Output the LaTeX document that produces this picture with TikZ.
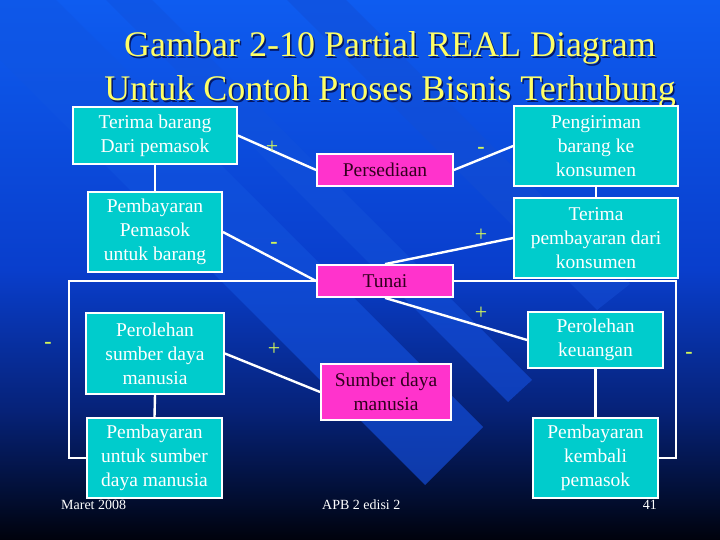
\documentclass[tikz,border=0pt]{standalone}
\usepackage{fontspec}
\setmainfont{Liberation Serif}
\definecolor{c0}{RGB}{0,2,12}
\definecolor{c1}{RGB}{2,14,50}
\definecolor{c2}{RGB}{6,34,120}
\definecolor{c3}{RGB}{9,62,204}
\definecolor{c4}{RGB}{14,92,240}
\definecolor{boxcyan}{RGB}{0,204,204}
\definecolor{boxmag}{RGB}{255,51,204}
\definecolor{magtext}{RGB}{50,0,30}
\definecolor{titlecol}{RGB}{255,255,102}
\definecolor{signcol}{RGB}{210,245,90}
\definecolor{bandtop}{RGB}{14,92,240}
\definecolor{bandbot}{RGB}{18,72,205}
\pgfdeclareverticalshading{slidebg}{100bp}{color(0bp)=(c0); color(25bp)=(c0); color(29bp)=(c1); color(37bp)=(c2); color(50bp)=(c3); color(75bp)=(c4); color(100bp)=(c4)}
\pgfdeclarelayer{back}
\pgfdeclarelayer{lines}
\pgfsetlayers{back,lines,main}
\tikzset{
  cbox/.style={draw=white, line width=1.8pt, fill=boxcyan, text=white, align=center, inner sep=0pt, font=\fontsize{19.5}{24}\selectfont},
  mbox/.style={draw=white, line width=1.8pt, fill=boxmag, text=magtext, align=center, inner sep=0pt, font=\fontsize{19.5}{24}\selectfont},
  link/.style={draw=white, line width=2.4pt},
  sgn/.style={text=signcol, font=\fontsize{22}{22}\selectfont, inner sep=0pt},
  sgnm/.style={text=signcol, font=\fontsize{22}{22}\selectfont\bfseries, inner sep=0pt},
  ttl/.style={text=titlecol, font=\fontsize{36}{36}\selectfont, anchor=base, inner sep=0pt},
  ttlsh/.style={text=black!80!blue, font=\fontsize{36}{36}\selectfont, anchor=base, inner sep=0pt, opacity=0.7},
  foot/.style={text=white, font=\fontsize{14}{14}\selectfont, inner sep=0pt},
  band/.style={top color=bandtop, bottom color=bandbot, opacity=0.75}
}
\begin{document}
\begin{tikzpicture}[x=1pt,y=-1pt]
\useasboundingbox (0,0) rectangle (720,540);
\begin{pgfonlayer}{back}
  \shade[shading=slidebg] (0,0) rectangle (720,540);
  \begin{scope}
    \clip (0,0) rectangle (720,540);
    \shade[band] (425,485) -- (483,427) -- (-117,-173) -- (-175,-115) -- cycle;
    \shade[band] (508,402) -- (532,380) -- (-68,-220) -- (-92,-198) -- cycle;
    \shade[band] (597,310) -- (630,284) -- (30,-316) -- (-3,-290) -- cycle;
  \end{scope}
\end{pgfonlayer}

% title
\node[ttlsh] at (391.5,58.5) {Gambar 2-10 Partial REAL Diagram};
\node[ttl] (t1) at (390,57) {Gambar 2-10 Partial REAL Diagram};
\node[ttlsh] at (391.5,102.5) {Untuk Contoh Proses Bisnis Terhubung};
\node[ttl] (t2) at (390,101) {Untuk Contoh Proses Bisnis Terhubung};

% left boxes
\node[cbox, minimum width=164pt, minimum height=57pt] (tb) at (155,135.5) {Terima barang\\Dari pemasok};
\node[cbox, minimum width=134pt, minimum height=80pt] (pp) at (155,232) {Pembayaran\\Pemasok\\untuk barang};
\node[cbox, minimum width=138pt, minimum height=81pt] (psd) at (155,353.5) {Perolehan\\sumber daya\\manusia};
\node[cbox, minimum width=135pt, minimum height=80pt] (pus) at (154.5,458) {Pembayaran\\untuk sumber\\daya manusia};

% middle boxes
\node[mbox, minimum width=136pt, minimum height=32pt] (pers) at (385,170) {Persediaan};
\node[mbox, minimum width=136pt, minimum height=32pt] (tunai) at (385,281) {Tunai};
\node[mbox, minimum width=130pt, minimum height=56pt] (sdm) at (386,392) {Sumber daya\\manusia};

% right boxes
\node[cbox, minimum width=164pt, minimum height=80pt] (peng) at (596,146) {Pengiriman\\barang ke\\konsumen};
\node[cbox, minimum width=164pt, minimum height=80pt] (tp) at (596,238) {Terima\\pembayaran dari\\konsumen};
\node[cbox, minimum width=135pt, minimum height=56pt] (pk) at (595.5,340) {Perolehan\\keuangan};
\node[cbox, minimum width=125pt, minimum height=80pt] (pkp) at (595.5,458) {Pembayaran\\kembali\\pemasok};

\coordinate (lb) at (69,281);
\coordinate (rb) at (676,281);

\begin{pgfonlayer}{lines}
  \draw[link] (tb.south) -- (pp.north);
  \draw[link] (psd.south) -- (pus.north);
  \draw[link] (peng.south) -- (tp.north);
  \draw[link] (pk.south) -- (pkp.north);
  \draw[link] (tb.east) -- (pers.west);
  \draw[link] (pers.east) -- (peng.west);
  \draw[link] (pp.east) -- (tunai.west);
  \draw[link] (tunai.north) -- (tp.west);
  \draw[link] (tunai.south) -- (pk.west);
  \draw[link] (psd.east) -- (sdm.west);
  \draw[link] (tunai.west) -- (lb) |- (pus.west);
  \draw[link] (tunai.east) -- (rb) |- (pkp.east);
\end{pgfonlayer}

% signs
\node[sgn] (s1) at (272,147) {+};
\node[sgnm] (s2) at (481,150) {-};
\node[sgnm] (s3) at (274,245) {-};
\node[sgn] (s4) at (481,235) {+};
\node[sgn] (s5) at (481,313) {+};
\node[sgn] (s6) at (274,349) {+};
\node[sgnm] (s7) at (48,345) {-};
\node[sgnm] (s8) at (689,355) {-};

% footer
\node[foot, anchor=base west] (f1) at (61,509) {Maret 2008};
\node[foot, anchor=base west] (f2) at (322,509) {APB 2 edisi 2};
\node[foot, anchor=base east] (f3) at (657,509) {41};
\end{tikzpicture}
\end{document}
